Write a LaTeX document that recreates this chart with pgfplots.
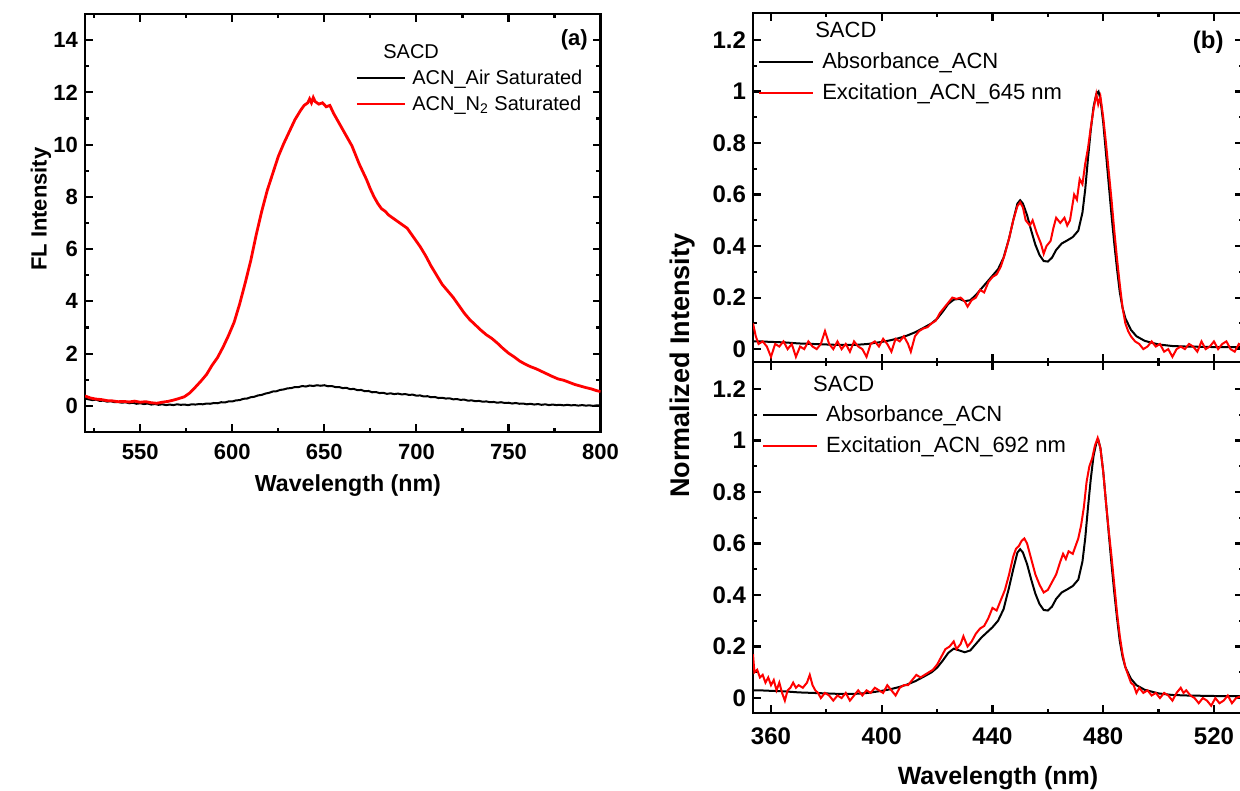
\documentclass[border=0pt]{standalone}
\usepackage{fontspec}
\setmainfont{Liberation Sans}
\usepackage{pgfplots}
\pgfplotsset{compat=1.18}

\pgfplotsset{
  panel/.style={
    scale only axis,
    axis line style={line width=1.2pt},
    every tick/.style={black, line width=1.1pt},
    tick align=inside, xtick pos=both, ytick pos=both,
    major tick length=4pt, minor tick length=2.2pt,
    /pgf/number format/assume math mode=true,
    legend cell align=left,
    legend style={draw=none, fill=none, inner sep=0pt, anchor=north west,
      nodes={inner sep=0pt, text height=8pt, text depth=2pt}},
  },
}

\begin{document}
\begin{tikzpicture}
\useasboundingbox (0,0) rectangle (620pt,395.5pt);

% ---------------- panel (a)
\begin{axis}[panel,
  at={(42.5pt,179.5pt)}, anchor=south west,
  width=257.75pt, height=209pt,
  xmin=520, xmax=800, ymin=-1, ymax=15,
  xtick={550,600,...,800}, minor xtick={525,575,...,775},
  ytick={0,2,...,14}, minor ytick={-1,1,...,15},
  tick label style={font=\fontsize{11}{12}\selectfont\bfseries},
  xticklabel style={yshift=-2.5pt},
  xlabel={Wavelength (nm)}, ylabel={FL Intensity},
  label style={font=\fontsize{11}{12}\selectfont\bfseries},
  xlabel style={at={(axis description cs:0.51,-0.127)}, anchor=center,
    font=\fontsize{11.6}{12}\selectfont\bfseries},
  ylabel style={at={(axis description cs:-0.0854,0.533)}, anchor=center},
  legend style={at={(0.524,0.932)}, row sep=2.8pt, column sep=3pt,
    font=\fontsize{10}{12}\selectfont},
  legend image code/.code={\draw[#1] (0pt,0pt) -- (24pt,0pt);},
  extra description/.code={
    \node[anchor=east, inner sep=0pt, font=\fontsize{11}{12}\selectfont\bfseries] at (0.976,0.938) {(a)};
  },
]
\addlegendimage{empty legend}
\addlegendentry{\hspace*{-14.5pt}SACD}
\addplot[black, line width=1pt] coordinates {
(520,0.28) (522,0.25) (524,0.22) (526,0.24) (528,0.19) (530,0.2) (532,0.16) (534,0.18)
(536,0.14) (538,0.15) (540,0.12) (542,0.14) (544,0.1) (546,0.12) (548,0.08) (550,0.1)
(552,0.07) (554,0.09) (556,0.05) (558,0.07) (560,0.04) (562,0.06) (564,0.03) (566,0.05)
(568,0.03) (570,0.06) (572,0.04) (574,0.05) (576,0.03) (578,0.06) (580,0.05) (582,0.07)
(584,0.06) (586,0.09) (588,0.08) (590,0.11) (592,0.1) (594,0.14) (596,0.13) (598,0.17)
(600,0.17) (602,0.21) (604,0.22) (606,0.27) (608,0.28) (610,0.33) (612,0.35) (614,0.4)
(616,0.42) (618,0.47) (620,0.5) (622,0.55) (624,0.56) (626,0.61) (628,0.63) (630,0.67)
(632,0.68) (634,0.72) (636,0.72) (638,0.76) (640,0.74) (642,0.78) (644,0.76) (646,0.79)
(648,0.77) (650,0.79) (652,0.75) (654,0.76) (656,0.72) (658,0.72) (660,0.68) (662,0.69)
(664,0.64) (666,0.65) (668,0.6) (670,0.61) (672,0.56) (674,0.57) (676,0.52) (678,0.53)
(680,0.49) (682,0.5) (684,0.46) (686,0.48) (688,0.45) (690,0.47) (692,0.44) (694,0.45)
(696,0.42) (698,0.43) (700,0.39) (702,0.4) (704,0.36) (706,0.37) (708,0.33) (710,0.34)
(712,0.3) (714,0.31) (716,0.28) (718,0.29) (720,0.25) (722,0.26) (724,0.23) (726,0.24)
(728,0.2) (730,0.21) (732,0.18) (734,0.19) (736,0.16) (738,0.17) (740,0.14) (742,0.15)
(744,0.12) (746,0.14) (748,0.11) (750,0.12) (752,0.09) (754,0.11) (756,0.08) (758,0.09)
(760,0.06) (762,0.08) (764,0.05) (766,0.07) (768,0.04) (770,0.06) (772,0.03) (774,0.05)
(776,0.03) (778,0.04) (780,0.02) (782,0.04) (784,0.02) (786,0.03) (788,0.01) (790,0.03)
(792,0.01) (794,0.02) (796,0.0) (798,0.02) (800,0.01)
};
\addlegendentry{ACN\_Air Saturated}
\addplot[red, line width=1.4pt] coordinates {
(520,0.38) (523,0.3) (526,0.26) (529,0.24) (532,0.2) (535,0.19) (538,0.16) (541,0.17)
(544,0.15) (547,0.18) (550,0.14) (553,0.16) (556,0.12) (559,0.1) (562,0.14) (565,0.17)
(568,0.22) (571,0.28) (574,0.35) (577,0.5) (580,0.72) (583,0.95) (586,1.2) (589,1.55)
(592,1.85) (595,2.25) (598,2.7) (601,3.2) (604,3.9) (607,4.7) (610,5.55) (613,6.55)
(616,7.45) (619,8.25) (622,8.9) (625,9.55) (628,10.05) (631,10.5) (634,10.95) (637,11.3)
(639,11.5) (641,11.6) (642,11.75) (643,11.6) (644,11.8) (645,11.65) (647,11.55) (649,11.6)
(651,11.45) (653,11.5) (655,11.2) (657,10.95) (659,10.7) (661,10.45) (663,10.2) (665,9.95)
(667,9.6) (669,9.25) (671,8.95) (673,8.65) (675,8.3) (677,8.0) (679,7.75) (681,7.55)
(683,7.45) (685,7.3) (687,7.2) (689,7.1) (691,7.0) (693,6.9) (695,6.8) (697,6.6)
(699,6.4) (702,6.1) (705,5.75) (708,5.35) (711,5.0) (714,4.65) (717,4.4) (720,4.15)
(723,3.85) (726,3.55) (729,3.3) (732,3.1) (735,2.9) (738,2.72) (741,2.58) (744,2.4)
(747,2.2) (750,2.02) (753,1.88) (756,1.72) (759,1.6) (762,1.5) (765,1.42) (768,1.32)
(771,1.22) (774,1.12) (777,1.03) (780,0.98) (783,0.9) (786,0.82) (789,0.76) (792,0.7)
(795,0.65) (798,0.58) (800,0.55)
};
\addlegendentry{ACN\_N\textsubscript{2} Saturated}
\end{axis}

% ---------------- panel (b), top
\begin{axis}[panel,
  at={(376.5pt,214.5pt)}, anchor=south west,
  width=245pt, height=174.5pt,
  xmin=353.5, xmax=530.5, ymin=-0.05, ymax=1.305,
  xtick={360,400,...,520}, minor xtick={380,420,...,500},
  xticklabels={},
  ytick={0,0.2,...,1.2}, minor ytick={0.1,0.3,...,1.1},
  tick label style={font=\fontsize{12}{14}\selectfont\bfseries},
  ylabel={Normalized Intensity},
  label style={font=\fontsize{13.5}{15}\selectfont\bfseries},
  ylabel style={at={(axis description cs:-0.143,-0.011)}, anchor=center},
  legend style={at={(0.01,0.98)}, row sep=4.3pt, column sep=4pt,
    font=\fontsize{11}{13}\selectfont,
    nodes={text height=8.8pt, text depth=2.2pt}},
  legend image code/.code={\draw[#1] (0pt,0pt) -- (27pt,0pt);},
  extra description/.code={
    \node[anchor=east, inner sep=0pt, font=\fontsize{12}{14}\selectfont\bfseries] at (0.961,0.917) {(b)};
  },
]
\addlegendimage{empty legend}
\addlegendentry{\hspace*{-3.5pt}SACD}
\addplot[black, line width=1pt] coordinates {
(353.5,0.03) (356,0.03) (360,0.028) (365,0.026) (370,0.022) (375,0.02) (380,0.018)
(385,0.016) (390,0.016) (395,0.02) (400,0.028) (403,0.034) (406,0.042) (409,0.052)
(412,0.065) (415,0.082) (418,0.1) (420,0.118) (422,0.145) (424,0.175) (426,0.192)
(428,0.195) (430,0.186) (432,0.19) (434,0.21) (436,0.235) (438,0.26) (440,0.285)
(442,0.31) (444,0.355) (446,0.43) (447.5,0.5) (449,0.565) (450,0.578) (451,0.565)
(452.5,0.52) (454,0.46) (455.5,0.405) (457,0.365) (458.5,0.342) (460,0.34) (461.5,0.355)
(463,0.385) (465,0.41) (467,0.422) (469,0.435) (471,0.46) (472.5,0.53) (473.5,0.62)
(474.5,0.74) (475.5,0.85) (476.5,0.94) (477.5,0.99) (478.3,1.0) (479,0.97) (480,0.88)
(481,0.76) (482,0.64) (483,0.52) (484,0.41) (485,0.31) (486,0.22) (487,0.16) (488,0.12)
(490,0.075) (492,0.05) (495,0.032) (500,0.018) (505,0.012) (510,0.01) (520,0.008) (530.5,0.008)
};
\addlegendentry{Absorbance\_ACN}
\addplot[red, line width=1pt] coordinates {
(353.5,0.1) (354.5,0.05) (355.5,0.02) (357,0.03) (358.5,0.01) (360,-0.03) (361.5,0.02)
(363,0.01) (364.5,0.03) (366,0.0) (367.5,0.02) (369,-0.03) (370.5,0.01) (372,0.0)
(373.5,0.03) (375,0.01) (376.5,0.0) (378,0.02) (379.5,0.07) (381,0.02) (382.5,0.0)
(384,0.03) (385.5,0.0) (387,0.02) (388.5,-0.01) (390,0.03) (391.5,0.01) (393,0.0)
(394.5,-0.03) (396,0.02) (397.5,0.03) (399,0.01) (400.5,0.04) (402,0.02) (403.5,-0.01)
(405,0.04) (406.5,0.03) (408,0.05) (409.5,0.02) (410.5,-0.01) (412,0.05) (413.5,0.07)
(415,0.08) (416.5,0.085) (418,0.1) (419.5,0.11) (421,0.14) (422.5,0.16) (424,0.18)
(425.5,0.2) (427,0.195) (428.5,0.2) (430,0.185) (431,0.165) (432.5,0.19) (434,0.2)
(435.5,0.23) (437,0.22) (438.5,0.26) (440,0.28) (441.5,0.29) (443,0.32) (444.5,0.37)
(446,0.43) (447.5,0.5) (449,0.555) (450,0.57) (451,0.55) (452,0.5) (453.5,0.48)
(454.5,0.5) (456,0.45) (457.5,0.41) (458.5,0.37) (459.5,0.4) (461,0.42) (462,0.47)
(463,0.51) (464.5,0.49) (466,0.51) (467,0.48) (468,0.5) (469.5,0.6) (470.5,0.58)
(471.5,0.66) (472.5,0.64) (473.5,0.72) (474.5,0.78) (475.5,0.86) (476.5,0.93) (477.5,0.99)
(478.2,0.95) (479,0.98) (480,0.9) (481,0.8) (482,0.69) (483,0.58) (484,0.46) (485,0.35)
(486,0.25) (487,0.16) (488,0.1) (489,0.07) (490,0.05) (491.5,0.03) (493,0.02) (494.5,0.0)
(496,0.01) (497.5,0.03) (499,0.01) (500.5,0.02) (502,-0.01) (503.5,0.0) (505,-0.03)
(506.5,0.0) (508,0.01) (509.5,0.0) (511,0.02) (512.5,0.01) (514,-0.01) (515.5,0.03)
(517,0.0) (518.5,0.01) (520,0.03) (521.5,0.0) (523,0.02) (524.5,0.03) (526,0.0)
(527.5,-0.01) (529,0.02) (530.5,0.01)
};
\addlegendentry{Excitation\_ACN\_645 nm}
\end{axis}

% ---------------- panel (b), bottom
\begin{axis}[panel,
  at={(376.5pt,39pt)}, anchor=south west,
  width=245pt, height=175.5pt,
  xmin=353.5, xmax=530.5, ymin=-0.058, ymax=1.305,
  xtick={360,400,...,520}, minor xtick={380,420,...,500},
  ytick={0,0.2,...,1.2}, minor ytick={0.1,0.3,...,1.1},
  tick label style={font=\fontsize{12}{14}\selectfont\bfseries},
  xticklabel style={yshift=-4pt},
  xlabel={Wavelength (nm)},
  label style={font=\fontsize{12.5}{14}\selectfont\bfseries},
  xlabel style={at={(axis description cs:0.5,-0.185)}, anchor=center},
  legend style={at={(0.018,0.968)}, row sep=4.3pt, column sep=4pt,
    font=\fontsize{11}{13}\selectfont,
    nodes={text height=8.8pt, text depth=2.2pt}},
  legend image code/.code={\draw[#1] (0pt,0pt) -- (27pt,0pt);},
]
\addlegendimage{empty legend}
\addlegendentry{\hspace*{-6.5pt}SACD}
\addplot[black, line width=1pt] coordinates {
(353.5,0.03) (356,0.03) (360,0.028) (365,0.026) (370,0.022) (375,0.02) (380,0.018)
(385,0.016) (390,0.016) (395,0.02) (400,0.028) (403,0.034) (406,0.042) (409,0.052)
(412,0.065) (415,0.082) (418,0.1) (420,0.118) (422,0.145) (424,0.175) (426,0.192)
(428,0.185) (430,0.178) (432,0.185) (434,0.21) (436,0.235) (438,0.255) (440,0.275)
(442,0.3) (444,0.345) (446,0.43) (447.5,0.5) (449,0.565) (450,0.578) (451,0.565)
(452.5,0.52) (454,0.46) (455.5,0.405) (457,0.365) (458.5,0.342) (460,0.34) (461.5,0.355)
(463,0.385) (465,0.41) (467,0.422) (469,0.435) (471,0.46) (472.5,0.53) (473.5,0.62)
(474.5,0.74) (475.5,0.85) (476.5,0.94) (477.5,0.99) (478.3,1.0) (479,0.97) (480,0.88)
(481,0.76) (482,0.64) (483,0.52) (484,0.41) (485,0.31) (486,0.22) (487,0.16) (488,0.12)
(490,0.075) (492,0.05) (495,0.032) (500,0.018) (505,0.012) (510,0.01) (520,0.008) (530.5,0.008)
};
\addlegendentry{Absorbance\_ACN}
\addplot[red, line width=1pt] coordinates {
(353.5,0.17) (354,0.1) (355,0.11) (356,0.08) (357,0.09) (358,0.06) (359,0.08) (360,0.05)
(361,0.07) (362,0.03) (363,0.06) (364,0.02) (365,-0.01) (366,0.03) (367,0.04) (368,0.06)
(369,0.04) (370,0.05) (371.5,0.04) (373,0.06) (374,0.09) (375,0.05) (376,0.03) (377,0.02)
(378,0.0) (379.5,0.02) (381,0.01) (382.5,-0.01) (384,0.01) (385.5,0.0) (387,0.02)
(388.5,-0.01) (390,0.01) (391.5,0.03) (393,0.01) (394.5,0.03) (396,0.02) (397.5,0.04)
(399,0.03) (400.5,0.02) (402,0.05) (403.5,0.03) (405,0.01) (406.5,0.04) (408,0.05)
(409.5,0.05) (411,0.07) (412.5,0.09) (414,0.08) (415.5,0.09) (417,0.1) (418.5,0.11)
(420,0.13) (421.5,0.16) (423,0.19) (424.5,0.2) (426,0.22) (427,0.19) (428.5,0.21)
(429.5,0.24) (431,0.2) (432.5,0.22) (434,0.25) (435.5,0.27) (437,0.28) (438.5,0.31)
(440,0.35) (441.5,0.34) (443,0.38) (444.5,0.42) (446,0.48) (447.5,0.55) (448.5,0.58)
(449.5,0.59) (450.5,0.61) (451.5,0.62) (452.5,0.6) (454,0.54) (455.5,0.48) (457,0.44)
(458.5,0.41) (460,0.42) (461.5,0.45) (463,0.48) (464.5,0.53) (465.5,0.56) (466.5,0.54)
(467.5,0.57) (469,0.56) (470,0.59) (471,0.62) (472,0.67) (473,0.74) (474,0.84) (475,0.9)
(476,0.93) (477,0.98) (478,1.01) (479,0.97) (480,0.88) (481,0.76) (482,0.65) (483,0.55)
(484,0.44) (485,0.33) (486,0.24) (487,0.17) (488,0.12) (489,0.09) (490,0.06) (491,0.05)
(492,0.02) (493,0.04) (494.5,0.02) (496,0.03) (497.5,0.01) (499,0.02) (500.5,0.0)
(502,0.02) (503.5,0.01) (505,-0.01) (506.5,0.02) (508,0.04) (509,0.02) (510,0.03)
(511.5,0.01) (513,0.0) (514.5,-0.02) (516,0.0) (517.5,-0.01) (519,-0.03) (520.5,0.0)
(522,-0.02) (523.5,-0.01) (525,0.01) (526.5,-0.02) (528,0.0) (530.5,0.01)
};
\addlegendentry{Excitation\_ACN\_692 nm}
\end{axis}
\end{tikzpicture}
\end{document}
